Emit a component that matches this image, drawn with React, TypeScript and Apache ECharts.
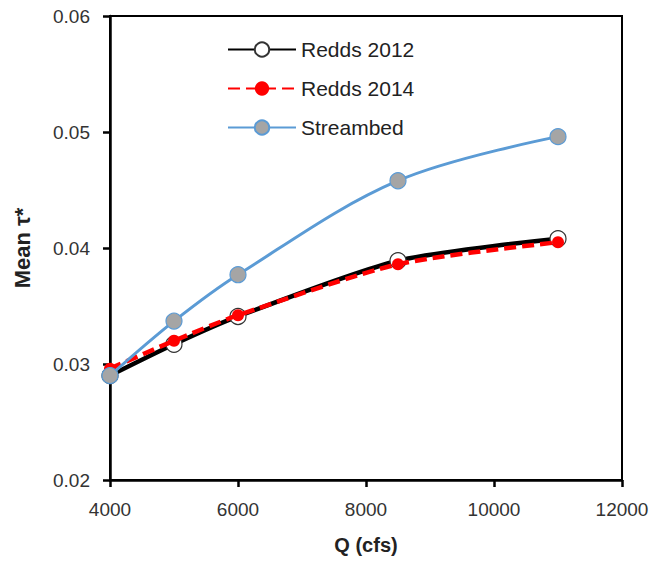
import React, { useEffect, useRef } from "react";
import * as echarts from "echarts";

// Discharge (cfs) and mean Shields stress for each surface
const discharge = [4000, 5000, 6000, 8500, 11000];
const redds2012 = [0.029, 0.0317, 0.0341, 0.0389, 0.0408];
const redds2014 = [0.0296, 0.032, 0.0342, 0.0386, 0.0405];
const streambed = [0.029, 0.0337, 0.0377, 0.0458, 0.0496];

const font = "Liberation Sans, Arial, sans-serif";

function pairs(ys: number[]) {
  return discharge.map((x, i) => [x, ys[i]]);
}

export default function App() {
  const ref = useRef<HTMLDivElement>(null);

  useEffect(() => {
    if (!ref.current) return;
    const chart = echarts.init(ref.current, undefined, { renderer: "svg" });
    chart.setOption({
      animation: false,
      backgroundColor: "#ffffff",
      grid: {
        left: 110,
        right: 32,
        top: 16,
        bottom: 81,
        show: true,
        borderColor: "#000",
        borderWidth: 2,
        outerBoundsMode: "none",
        containLabel: false,
      },
      legend: {
        orient: "vertical",
        left: 222,
        top: 34,
        itemWidth: 68,
        itemHeight: 18,
        itemGap: 18,
        textStyle: { fontFamily: font, fontSize: 21, color: "#222" },
        data: ["Redds 2012", "Redds 2014", "Streambed"],
      },
      xAxis: {
        type: "value",
        min: 4000,
        max: 12000,
        interval: 2000,
        name: "Q (cfs)",
        nameLocation: "middle",
        nameGap: 55,
        nameTextStyle: { fontFamily: font, fontSize: 20, fontWeight: "bold", color: "#222" },
        axisLine: { onZero: false, lineStyle: { color: "#000", width: 2.5 } },
        axisTick: { show: true, inside: false, length: 7, lineStyle: { color: "#000", width: 2.5 } },
        axisLabel: {
          fontFamily: font,
          fontSize: 19,
          color: "#333",
          margin: 20,
          formatter: (v: number) => String(v),
        },
        splitLine: { show: false },
      },
      yAxis: {
        type: "value",
        min: 0.02,
        max: 0.06,
        interval: 0.01,
        name: "Mean τ*",
        nameLocation: "middle",
        nameGap: 77,
        nameTextStyle: { fontFamily: font, fontSize: 22, fontWeight: "bold", color: "#222" },
        axisLine: { lineStyle: { color: "#000", width: 2.5 } },
        axisTick: { show: true, inside: false, length: 7, lineStyle: { color: "#000", width: 2.5 } },
        axisLabel: {
          fontFamily: font,
          fontSize: 19,
          color: "#333",
          margin: 20,
          formatter: (v: number) => String(Math.round(v * 100) / 100),
        },
        splitLine: { show: false },
      },
      series: [
        {
          name: "Redds 2012",
          type: "line",
          data: pairs(redds2012),
          smooth: 0.25,
          symbol: "circle",
          symbolSize: 16,
          lineStyle: { color: "#000", width: 4.5 },
          itemStyle: { color: "#fff", borderColor: "#333", borderWidth: 1.2 },
          z: 2,
        },
        {
          name: "Redds 2014",
          type: "line",
          data: pairs(redds2014),
          smooth: 0.25,
          symbol: "circle",
          symbolSize: 12,
          lineStyle: { color: "#ff0000", width: 4.5, type: [12, 6] },
          itemStyle: { color: "#ff0000", borderColor: "#ff0000", borderWidth: 0 },
          z: 3,
        },
        {
          name: "Streambed",
          type: "line",
          data: pairs(streambed),
          smooth: 0.35,
          symbol: "circle",
          symbolSize: 16,
          lineStyle: { color: "#5b9bd5", width: 3 },
          itemStyle: { color: "#a5a5a5", borderColor: "#5b9bd5", borderWidth: 1.2 },
          z: 4,
        },
      ],
    });
    return () => chart.dispose();
  }, []);

  return (
    <div
      ref={ref}
      style={{ position: "absolute", left: 0, top: 0, width: 654, height: 561 }}
    />
  );
}
